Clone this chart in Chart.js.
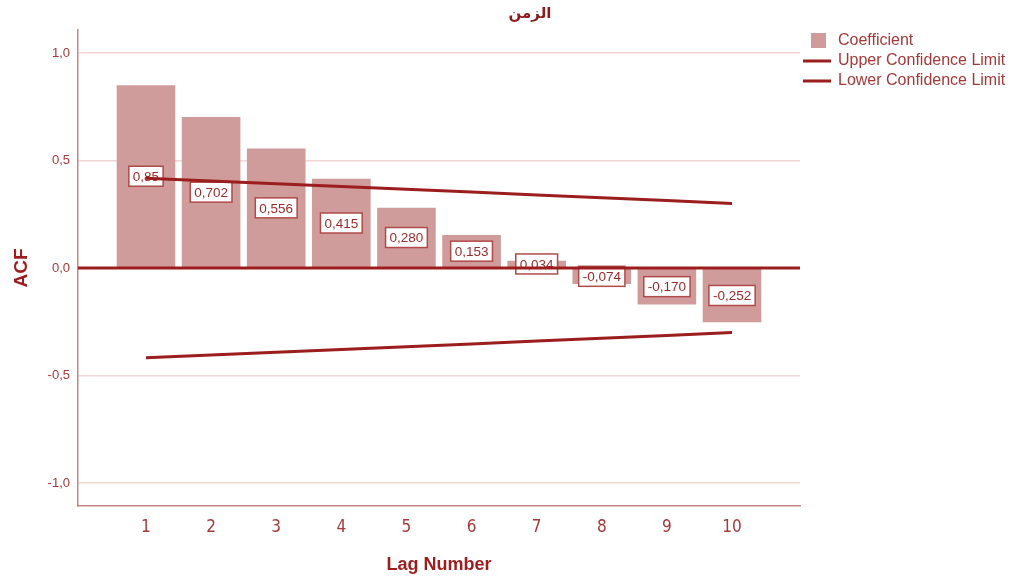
<!DOCTYPE html>
<html>
<head>
<meta charset="utf-8">
<script src="https://cdn.jsdelivr.net/npm/chart.js@4/dist/chart.umd.min.js"></script>
<style>
  html, body { margin: 0; padding: 0; background: #fff; }
  #wrap { width: 1011px; height: 579px; }
</style>
</head>
<body>
<div id="wrap"><canvas id="acfChart" width="1011" height="579"></canvas></div>
<script>
// values
const lags = [1, 2, 3, 4, 5, 6, 7, 8, 9, 10];
const coefficient = [0.85, 0.702, 0.556, 0.415, 0.280, 0.153, 0.034, -0.074, -0.170, -0.252];
const coefLabels = ['0,85', '0,702', '0,556', '0,415', '0,280', '0,153', '0,034', '-0,074', '-0,170', '-0,252'];
const upperLimit = [0.418, 0.405, 0.392, 0.379, 0.366, 0.353, 0.340, 0.327, 0.314, 0.300];
const lowerLimit = [-0.418, -0.405, -0.392, -0.379, -0.366, -0.353, -0.340, -0.327, -0.314, -0.300];
const yTicks = [-1.0, -0.5, 0.0, 0.5, 1.0];
const chartTitle = 'الزمن';

const barColor = '#cf9b9b';
const lineColor = '#9b1d1d';
const textColor = '#a33a3a';

function pts(arr) {
    return lags.map((l, i) => ({ x: l, y: arr[i] }));
}

// value boxes, drawn right after the bars so the lines go over them
const valueBoxes = {
    id: 'valueBoxes',
    afterDatasetDraw(chart, args) {
        if (args.index !== 0) return;
        const ctx = chart.ctx;
        const meta = chart.getDatasetMeta(0);
        ctx.save();
        ctx.font = '13.5px "Liberation Sans", Arial, sans-serif';
        ctx.textAlign = 'center';
        ctx.textBaseline = 'middle';
        meta.data.forEach((bar, i) => {
            const txt = coefLabels[i];
            const cy = (bar.y + bar.base) / 2;
            const w = ctx.measureText(txt).width + 8;
            const h = 20;
            ctx.fillStyle = '#fff';
            ctx.fillRect(bar.x - w / 2, cy - h / 2, w, h);
            ctx.strokeStyle = '#b04a4a';
            ctx.lineWidth = 1.5;
            ctx.strokeRect(bar.x - w / 2, cy - h / 2, w, h);
            ctx.fillStyle = '#9b2b2b';
            ctx.fillText(txt, bar.x, cy + 1);
        });
        ctx.restore();
    },
    afterDatasetsDraw(chart) {
        // heavy zero reference line
        const ctx = chart.ctx;
        const y0 = chart.scales.y.getPixelForValue(0);
        const area = chart.chartArea;
        ctx.save();
        ctx.strokeStyle = lineColor;
        ctx.lineWidth = 3;
        ctx.beginPath();
        ctx.moveTo(area.left, y0);
        ctx.lineTo(area.right, y0);
        ctx.stroke();
        ctx.restore();
    },
    afterDraw(chart) {
        const ctx = chart.ctx;
        const lx = chart.chartArea.right;
        ctx.save();
        // title
        ctx.font = 'bold 15px "DejaVu Sans", sans-serif';
        ctx.fillStyle = '#8b1a1a';
        ctx.textAlign = 'center';
        ctx.textBaseline = 'middle';
        ctx.fillText(chartTitle, 530, 14);
        // legend at the top right
        ctx.font = '16px "Liberation Sans", Arial, sans-serif';
        ctx.textAlign = 'left';
        ctx.fillStyle = barColor;
        ctx.fillRect(lx + 11, 33, 15, 15);
        ctx.strokeStyle = lineColor;
        ctx.lineWidth = 3;
        [61, 81].forEach(y => {
            ctx.beginPath();
            ctx.moveTo(lx + 3, y);
            ctx.lineTo(lx + 31, y);
            ctx.stroke();
        });
        ctx.fillStyle = textColor;
        ctx.fillText('Coefficient', lx + 38, 41);
        ctx.fillText('Upper Confidence Limit', lx + 38, 61);
        ctx.fillText('Lower Confidence Limit', lx + 38, 81);
        ctx.restore();
    }
};

const ctx = document.getElementById('acfChart');
const myChart = new Chart(ctx, {
    type: 'bar',
    data: {
        datasets: [{
            type: 'bar',
            label: 'Coefficient',
            data: pts(coefficient),
            backgroundColor: barColor,
            borderWidth: 0,
            barPercentage: 1,
            categoryPercentage: 0.9,
            order: 3
        }, {
            type: 'line',
            label: 'Upper Confidence Limit',
            data: pts(upperLimit),
            borderColor: lineColor,
            borderWidth: 3,
            pointRadius: 0,
            tension: 0,
            order: 1
        }, {
            type: 'line',
            label: 'Lower Confidence Limit',
            data: pts(lowerLimit),
            borderColor: lineColor,
            borderWidth: 3,
            pointRadius: 0,
            tension: 0,
            order: 2
        }]
    },
    options: {
        responsive: false,
        animation: false,
        layout: {
            padding: { top: 30, right: 211, left: 0, bottom: 0 }
        },
        plugins: {
            legend: { display: false },
            tooltip: { enabled: false },
            title: { display: false }
        },
        scales: {
            x: {
                type: 'linear',
                offset: false,
                min: -0.044,
                max: 11.044,
                afterBuildTicks: s => { s.ticks = lags.map(v => ({ value: v })); },
                afterFit: s => { s.height = 73; },
                grid: { display: false, drawTicks: false, offset: false },
                border: { color: '#c98585', width: 1.5 },
                ticks: {
                    color: textColor,
                    padding: 11,
                    maxRotation: 0,
                    font: { family: '"Liberation Sans Narrow", "DejaVu Sans Condensed", sans-serif', size: 17 },
                    callback: v => String(v)
                },
                title: {
                    display: true,
                    text: 'Lag Number',
                    color: lineColor,
                    font: { family: '"Liberation Sans", Arial, sans-serif', size: 18, weight: 'bold' },
                    padding: { top: 0, bottom: 3 }
                }
            },
            y: {
                min: -1.107,
                max: 1.107,
                afterBuildTicks: s => { s.ticks = yTicks.map(v => ({ value: v })); },
                afterFit: s => { s.width = 78; },
                grid: { color: '#f2d6d6', lineWidth: 1.5, drawTicks: false },
                border: { color: '#c98585', width: 1.5 },
                ticks: {
                    color: textColor,
                    padding: 8,
                    font: { family: '"Liberation Sans", Arial, sans-serif', size: 13 },
                    callback: v => v.toFixed(1).replace('.', ',')
                },
                title: {
                    display: true,
                    text: 'ACF',
                    color: lineColor,
                    font: { family: '"Liberation Sans", Arial, sans-serif', size: 19, weight: 'bold' },
                    padding: { top: 10, bottom: 0 }
                }
            }
        }
    },
    plugins: [valueBoxes]
});
</script>
</body>
</html>
